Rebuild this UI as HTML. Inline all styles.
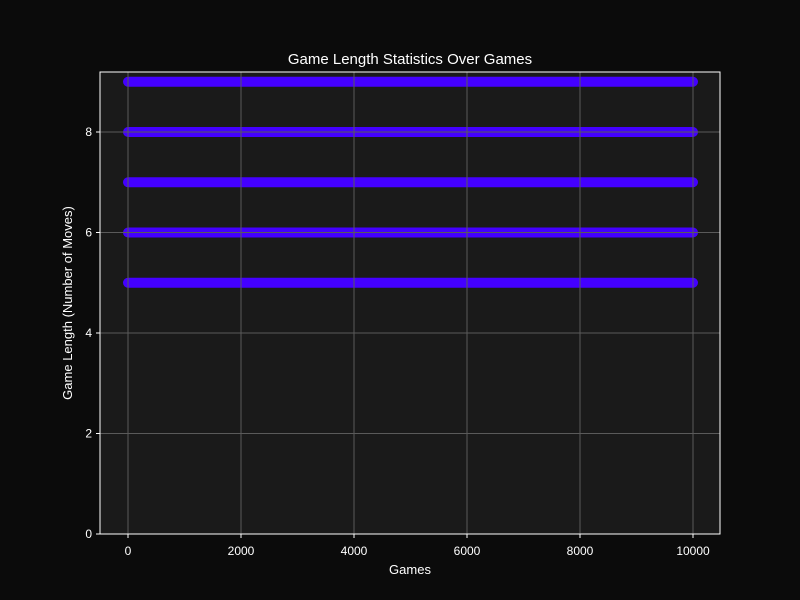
<!DOCTYPE html>
<html><head><meta charset="utf-8"><style>
html,body{margin:0;padding:0;background:#0b0b0b;}
svg{display:block;font-family:"Liberation Sans","DejaVu Sans",sans-serif;}
</style></head><body>
<svg id="chart" width="800" height="600">
<rect x="0" y="0" width="800" height="600" fill="#0b0b0b"/>
<rect x="100" y="72" width="620" height="462" fill="#1a1a1a"/>
<g id="marks"></g>
<g id="grid"></g>
<g id="axes"></g>
<text x="410" y="64" fill="#ffffff" font-size="15" text-anchor="middle">Game Length Statistics Over Games</text>
<text x="410" y="574" fill="#ffffff" font-size="13" text-anchor="middle">Games</text>
<text x="72" y="303" fill="#ffffff" font-size="13" text-anchor="middle" transform="rotate(-90 72 303)">Game Length (Number of Moves)</text>
</svg>
<script>
const levels = [5, 6, 7, 8, 9];
const gameStart = [0, 0, 0, 0, 0];
const gameEnd = [10000, 10000, 10000, 10000, 10000];
const xTicks = [0, 2000, 4000, 6000, 8000, 10000];
const yTicks = [0, 2, 4, 6, 8];

const NS = "http://www.w3.org/2000/svg";
function xS(v){ return 128 + (v - 0) * (693 - 128) / 10000; }
function yS(v){ return 534 - v * (534 - 132) / 8; }
function mk(tag, attrs, parent){
  const e = document.createElementNS(NS, tag);
  for (const k in attrs) e.setAttribute(k, attrs[k]);
  parent.appendChild(e);
  return e;
}
const grid = document.getElementById('grid');
const axes = document.getElementById('axes');
const marks = document.getElementById('marks');

xTicks.forEach(t => {
  const g = mk('line', {x1: xS(t), x2: xS(t), y1: 72, y2: 534, stroke: '#5a5a5a', 'stroke-width': 1}, grid);
  
  
  const tk = mk('line', {x1: xS(t), x2: xS(t), y1: 534, y2: 538, stroke: '#ffffff', 'stroke-width': 1}, axes);
  
  
  const lb = mk('text', {x: xS(t), y: 555, fill: '#ffffff', 'font-size': 12, 'text-anchor': 'middle'}, axes);
  lb.textContent = t;
  
  
});
yTicks.forEach(t => {
  const g = mk('line', {x1: 100, x2: 720, y1: yS(t), y2: yS(t), stroke: '#5a5a5a', 'stroke-width': 1}, grid);
  
  
  const tk = mk('line', {x1: 96, x2: 100, y1: yS(t), y2: yS(t), stroke: '#ffffff', 'stroke-width': 1}, axes);
  
  
  const lb = mk('text', {x: 92, y: yS(t) + 4, fill: '#ffffff', 'font-size': 12, 'text-anchor': 'end'}, axes);
  lb.textContent = t;
  
  
});
const frame = mk('rect', {x: 100, y: 72, width: 620, height: 462, fill: 'none', stroke: '#ffffff', 'stroke-width': 1}, axes);



levels.forEach((lv, i) => {
  const l = mk('line', {x1: xS(gameStart[i]), x2: xS(gameEnd[i]), y1: yS(lv), y2: yS(lv),
    stroke: '#4400ff', 'stroke-width': 10, 'stroke-linecap': 'round'}, marks);
  
  
});
</script>
</body></html>
